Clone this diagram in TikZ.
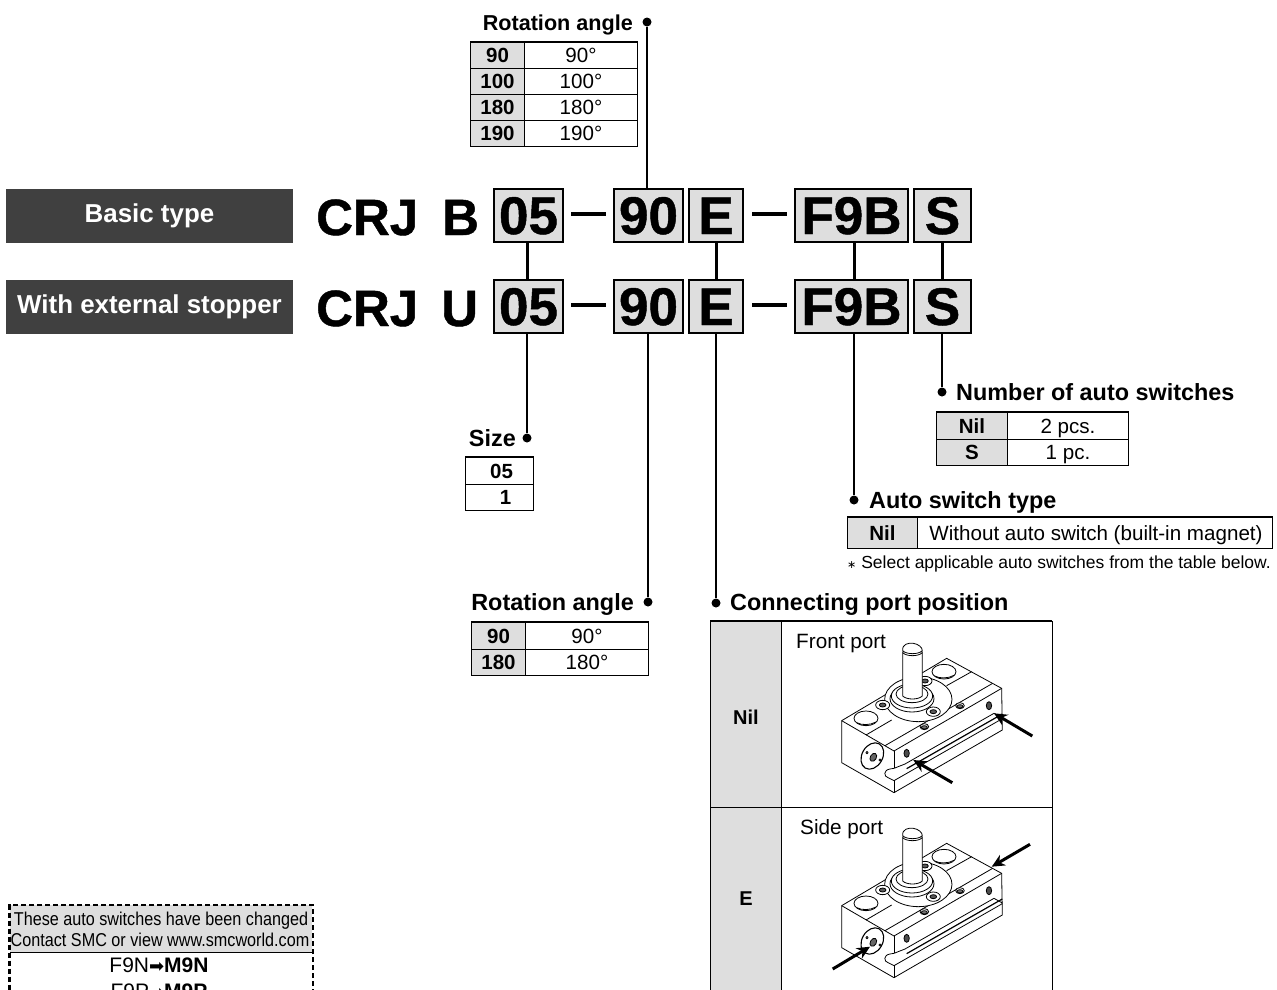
\documentclass[tikz,border=0pt]{standalone}
\usepackage{fontspec}
\setmainfont{Liberation Sans}
\newfontfamily\djv{DejaVu Sans}
\usetikzlibrary{arrows.meta,calc}
\definecolor{hdr}{HTML}{404040}
\definecolor{cellg}{HTML}{DEDEDE}
\newcommand{\fs}[1]{\fontsize{#1}{#1}\selectfont}
\newcommand{\hv}{\bfseries\addfontfeature{FakeBold=0.9}}
\tikzset{
  x=1pt,y=-1pt,
  bigbox/.style={draw=black,line width=2pt,fill=cellg,inner sep=0pt,minimum height=53pt,font=\fs{53}\hv,text height=37pt,text depth=0pt},
  bigtxt/.style={inner sep=0pt,anchor=base west,font=\fs{51}\hv},
  dashbar/.style={line width=3.4pt},
  link/.style={line width=3pt},
  lead/.style={line width=1.7pt},
  dot/.style={circle,fill=black,inner sep=0pt,minimum size=9pt},
  titlee/.style={inner sep=0pt,anchor=base east,font=\fs{23.4}\bfseries},
  titlew/.style={inner sep=0pt,anchor=base west,font=\fs{23.4}\bfseries},
  typebar/.style={fill=hdr,inner sep=0pt,text=white,font=\fs{25.9}\bfseries,minimum width=287pt,minimum height=54pt},
  cell/.style={draw=black,line width=1pt,inner sep=0pt,font=\fs{20.6},text height=14.5pt,text depth=0pt},
  gcell/.style={cell,fill=cellg,font=\fs{20.5}\bfseries},
  topline/.style={line width=1.8pt},
  dev/.style={line width=.8pt,line join=round,fill=white},
  devl/.style={line width=.8pt,line join=round},
  pointer/.style={line width=3pt,-{Stealth[length=13pt,width=12pt]}},
}
% \trow{name}{x0}{x1}{x2}{y0}{h}{left}{right}
\newcommand{\trow}[8]{%
  \node[gcell,minimum width=#3pt-#2pt,minimum height=#6pt,anchor=north west] (#1l) at (#2,#5) {#7};
  \node[cell,minimum width=#4pt-#3pt,minimum height=#6pt,anchor=north west] (#1r) at (#3,#5) {#8};}
% device drawing, in units of a third of a pixel
\newcommand{\device}[2]{%
\begin{scope}[shift={(#1,#2)},x=.3333pt,y=-.3333pt]
  \draw[dev] (155,302) -- (470,115) -- (635,205) -- (637,330) -- (312,518) -- (155,428) -- cycle;
  \draw[devl] (155,302) -- (312,393) -- (635,205);
  \draw[devl] (312,393) -- (312,445);
  \draw[devl] (312,480) -- (312,518);
  \draw[devl] (285,377) -- (608,190);
  \draw[devl] (228,345) -- (305,300);
  \draw[devl] (470,197) -- (545,155);
  % groove
  \draw[devl] (312,445) -- (300,447) .. controls (280,450) and (280,470) .. (296,474) -- (312,482) -- (637,296);
  \draw[devl] (345,432) -- (612,280) -- (637,294);
  \draw[devl,line width=1.2pt] (350,446) -- (637,282);
  \draw[devl] (312,445) -- (345,432);
  % mounting holes
  \draw[dev] (228,295) ellipse [x radius=36,y radius=22];
  \draw[devl] (200,308) .. controls (215,316) and (240,316) .. (258,306);
  \draw[dev] (462,155) ellipse [x radius=36,y radius=22];
  \draw[devl] (434,168) .. controls (449,176) and (474,176) .. (492,166);
  % flange
  \draw[dev] (385,238) ellipse [x radius=101,y radius=67];
  \draw[dev] (366,236) ellipse [x radius=66,y radius=40];
  \draw[dev] (366,228) ellipse [x radius=62,y radius=36];
  \draw[dev] (366,222) ellipse [x radius=48,y radius=26];
  % flange screws
  \foreach \sx/\sy in {278/255,430/275,405/183}{
    \draw[dev] (\sx,\sy) ellipse [x radius=21,y radius=14];
    \draw[devl,fill=black!65] (\sx,\sy) ellipse [x radius=10,y radius=6];
  }
  % shaft
  \draw[dev] (338,95) -- (338,228) .. controls (350,240) and (385,240) .. (397,228) -- (397,95) -- cycle;
  \draw[dev] (338,92) .. controls (336,72) and (355,68) .. (370,70) .. controls (385,72) and (397,82) .. (397,92) .. controls (385,104) and (350,104) .. (338,92) -- cycle;
  \draw[devl] (338,98) .. controls (350,110) and (385,110) .. (397,98);
  % side screws
  \foreach \sx/\sy in {403/320,510/257}{
    \draw[dev] (\sx,\sy) ellipse [x radius=13,y radius=9];
    \draw[devl,fill=black!55] (\sx,\sy+2) ellipse [x radius=9,y radius=5];
  }
  % side holes
  \foreach \sx/\sy in {350/400,597/257}{
    \draw[devl,fill=black!70] (\sx,\sy) ellipse [x radius=8,y radius=12];
  }
  % end-face port
  \draw[dev,line width=1.1pt,rotate around={-30:(247,408)}] (247,408) ellipse [x radius=31,y radius=42];
  \draw[devl,fill=black!60,rotate around={-30:(250,412)}] (250,412) ellipse [x radius=9,y radius=13];
  \draw[devl] (231,398) circle (3.5);
  \draw[devl] (270,420) circle (3.5);
\end{scope}}
\begin{document}
\begin{tikzpicture}
\useasboundingbox (0,0) rectangle (1277,989);
\begin{scope}
\clip (0,0) rectangle (1277,989);

% type bars
\node[typebar] (barA) at (149.5,216) {Basic type};
\node[typebar] (barB) at (149.5,307) {With external stopper};

% part number text
\node[bigtxt] (crjA) at (316,235) {CRJ};
\node[bigtxt] (bA) at (442,235) {B};
\node[bigtxt] (crjB) at (316,326) {CRJ};
\node[bigtxt] (uB) at (441,326) {U};

% code boxes
\foreach \r/\yy/\cc in {A/215.5/x,B/306.5/x}{
  \node[bigbox,minimum width=69pt] (o5\r) at (528.5,\yy) {05};
  \node[bigbox,minimum width=69pt] (n0\r) at (648.5,\yy) {90};
  \node[bigbox,minimum width=54pt] (e\r) at (716,\yy) {E};
  \node[bigbox,minimum width=113pt] (f\r) at (851.5,\yy) {F9B};
  \node[bigbox,minimum width=57pt] (s\r) at (942.5,\yy) {S};
  \draw[dashbar] ($(o5\r.east)+(7,-1.5)$) -- ($(n0\r.west)+(-7,-1.5)$);
  \draw[dashbar] ($(e\r.east)+(8,-1.5)$) -- ($(f\r.west)+(-7,-1.5)$);
}

% titles and dots
\node[titlee,font=\fs{21.6}\bfseries] (tRotA) at (633,30) {Rotation angle};
\node[dot] (dRotA) at (647,22) {};
\node[titlee] (tSize) at (516,446) {Size};
\node[dot] (dSize) at (527,438) {};
\node[titlee] (tRotB) at (634,610) {Rotation angle};
\node[dot] (dRotB) at (648,602) {};
\node[titlew] (tPort) at (730,610.5) {Connecting port position};
\node[dot] (dPort) at (716,603) {};
\node[titlew] (tType) at (869,508) {Auto switch type};
\node[dot] (dType) at (854,500) {};
\node[titlew] (tNum) at (956,400) {Number of auto switches};
\node[dot] (dNum) at (942,392) {};

% connectors
\draw[lead] (dRotA) -- (dRotA |- n0A.north);
\draw[link] (dSize |- o5A.south) -- (dSize |- o5B.north);
\draw[link] (dPort |- eA.south) -- (dPort |- eB.north);
\draw[link] (dType |- fA.south) -- (dType |- fB.north);
\draw[link] (dNum |- sA.south) -- (dNum |- sB.north);
\draw[lead] (dSize |- o5B.south) -- (dSize);
\draw[lead] (dRotB |- n0B.south) -- (dRotB);
\draw[lead] (dPort |- eB.south) -- (dPort);
\draw[lead] (dType |- fB.south) -- (dType);
\draw[lead] (dNum |- sB.south) -- (dNum);

% rotation table (top)
\trow{ra1}{470}{524}{637}{42}{26}{90}{90°}
\trow{ra2}{470}{524}{637}{68}{26}{100}{100°}
\trow{ra3}{470}{524}{637}{94}{26}{180}{180°}
\trow{ra4}{470}{524}{637}{120}{26}{190}{190°}
\draw[topline] (ra1l.north west) -- (ra1r.north east);

% size table
\node[cell,minimum width=68pt,minimum height=26.5pt,anchor=north west,font=\fs{20.5}\bfseries] (sz1) at (465,457) {\hspace{4pt}05};
\node[cell,minimum width=68pt,minimum height=26.5pt,anchor=north west,font=\fs{20.5}\bfseries] (sz2) at (465,483.5) {\hspace{12pt}1};
\draw[topline] (sz1.north west) -- (sz1.north east);

% rotation table (bottom)
\trow{rb1}{471}{525}{648}{622}{26.5}{90}{90°}
\trow{rb2}{471}{525}{648}{648.5}{26.5}{180}{180°}
\draw[topline] (rb1l.north west) -- (rb1r.north east);

% number of switches
\trow{nm1}{936}{1007}{1128}{412}{26.5}{Nil}{2 pcs.}
\trow{nm2}{936}{1007}{1128}{438.5}{26.5}{S}{1 pc.}
\draw[topline] (nm1l.north west) -- (nm1r.north east);

% switch type
\trow{ty1}{847}{917}{1272}{517}{31}{Nil}{\hspace{2pt}Without auto switch (built-in magnet)}
\draw[topline] (ty1l.north west) -- (ty1r.north east);
\node[inner sep=0pt,anchor=west,font=\fs{17.5}] (note) at (847,564) {{\djv\fs{11}∗} Select applicable auto switches from the table below.};

% port table
\draw[line width=1pt] (710,621) rectangle (1052,1010);
\fill[cellg] (710.4,622) rectangle (781,1010);
\draw[line width=1pt] (710,621) -- (710,1010) (781,621) -- (781,1010);
\draw[line width=1pt] (710,807) -- (1052,807);
\draw[line width=2pt] (710,621) -- (1052,621);
\node[inner sep=0pt,font=\fs{20}\bfseries] (pNil) at (746,717) {Nil};
\node[inner sep=0pt,font=\fs{20}\bfseries] (pE) at (746,899) {E};
\node[inner sep=0pt,anchor=base west,font=\fs{20.7}] (pF) at (796,648) {Front port};
\node[inner sep=0pt,anchor=base west,font=\fs{20.7}] (pS) at (800,834) {Side port};

\device{790}{620}
\device{790}{805}
\coordinate (af1) at ($(790,620)+(162.3,162.7)$);
\coordinate (af2) at ($(790,620)+(123.3,140)$);
\coordinate (af3) at ($(790,620)+(242.3,116)$);
\coordinate (af4) at ($(790,620)+(204,93.3)$);
\draw[pointer] (af1) -- (af2);
\draw[pointer] (af3) -- (af4);
\coordinate (as1) at ($(790,805)+(240,39.3)$);
\coordinate (as2) at ($(790,805)+(201.7,61.7)$);
\coordinate (as3) at ($(790,805)+(42.7,164)$);
\coordinate (as4) at ($(790,805)+(80,141.7)$);
\draw[pointer] (as1) -- (as2);
\draw[pointer] (as3) -- (as4);

% dashed notice
\fill[cellg] (10,905) rectangle (312,952);
\draw[line width=1pt] (10,952.5) -- (312,952.5);
\draw[line width=2.4pt,dash pattern=on 5pt off 3pt] (313,1010) -- (313,905) -- (9.5,905) -- (9.5,1010);
\node[inner sep=0pt,font=\fs{18.6}\addfontfeature{FakeStretch=.87}] (nt1) at (161,921) {These auto switches have been changed};
\node[inner sep=0pt,font=\fs{18.6}\addfontfeature{FakeStretch=.87}] (nt2) at (160,940) {Contact SMC or view www.smcworld.com};
\node[inner sep=0pt,anchor=base,font=\fs{21}] (nt3) at (159,972) {F9N{\djv\fs{18}➡}\textbf{M9N}};
\node[inner sep=0pt,anchor=base,font=\fs{21}] (nt4) at (159,998) {F9P{\djv\fs{18}➡}\textbf{M9P}};
\end{scope}
\end{tikzpicture}
\end{document}
